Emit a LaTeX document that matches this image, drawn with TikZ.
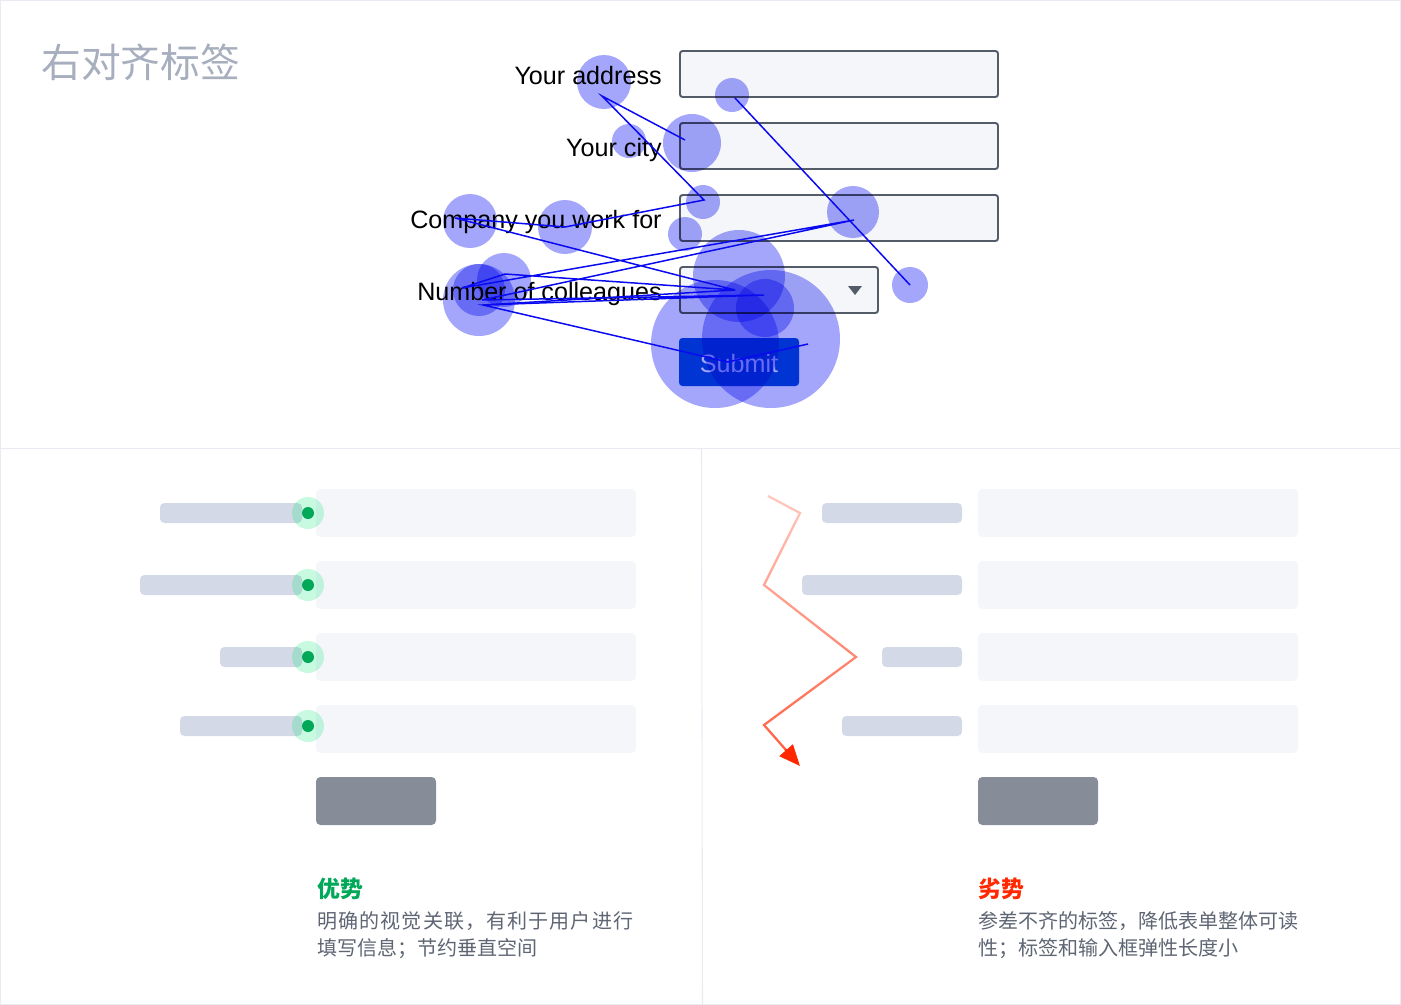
\documentclass[tikz,border=0pt]{standalone}
\usepackage{fontspec}
\setmainfont{Liberation Sans}
\newfontfamily\cjk{Noto Sans CJK SC}
\usetikzlibrary{arrows.meta,fadings,calc}

\definecolor{frame}{HTML}{E9EAF2}
\definecolor{fieldbg}{HTML}{F5F6FA}
\definecolor{fieldline}{HTML}{555C69}
\definecolor{barcol}{HTML}{D3D9E6}
\definecolor{btngray}{HTML}{868C98}
\definecolor{heatcol}{RGB}{163,166,250}
\definecolor{scanblue}{RGB}{10,10,240}
\definecolor{primary}{HTML}{0052D9}
\definecolor{titlegray}{HTML}{A7AEBE}
\definecolor{textgray}{HTML}{5E6573}
\definecolor{goodgreen}{HTML}{00A858}
\definecolor{halo}{HTML}{00E676}
\definecolor{badred}{RGB}{255,40,0}

\pgfdeclareverticalshading{zigshade}{100bp}{color(0bp)=(pgftransparent!0); color(100bp)=(pgftransparent!100)}
\pgfdeclarefading{zigfade}{\pgfuseshading{zigshade}}

\begin{document}
\begin{tikzpicture}[x=0.02cm, y=-0.02cm,
	field/.style={draw=fieldline, line width=1.1pt, fill=fieldbg, rounded corners=1.5pt},
	ghost/.style={fill=fieldbg, rounded corners=2.5pt},
	bar/.style={fill=barcol, rounded corners=2.5pt},
	label/.style={anchor=base east, inner sep=0pt, font=\fontsize{14.3}{16}\selectfont},
	heat/.style={fill=heatcol},
	scan/.style={scanblue, line width=0.85pt},
	note/.style={anchor=west, inner sep=0pt, text=textgray, font=\cjk\fontsize{11.4}{14}\selectfont}]
	\useasboundingbox (0,0) rectangle (1401,1005);

	% frame
	\draw[frame, line width=0.6pt] (0.5,0.5) rectangle (1400.5,1004.5);
	\draw[frame, line width=0.6pt] (0,448.5) -- (1401,448.5);
	\draw[frame, line width=0.6pt] (701.5,448.5) -- (702.5,1005);

	% top: the form
	\node[anchor=west, inner sep=0pt, text=titlegray, font=\cjk\fontsize{22.6}{26}\selectfont] (title) at (41,62) {右对齐标签};
	\draw[field] (680,51) rectangle (998,97);
	\draw[field] (680,123) rectangle (998,169);
	\draw[field] (680,195) rectangle (998,241);
	\draw[field] (680,267) rectangle (878,313);
	\fill[fieldline] (848,286) -- (862,286) -- (855,295) -- cycle;
	\node[label] (address) at (662,84) {Your address};
	\node[label] (city) at (662,156) {Your city};
	\node[label] (company) at (662,228) {Company you work for};
	\node[label] (colleagues) at (662,300) {Number of colleagues};
	\fill[primary, rounded corners=2pt] (679,338) rectangle (799,386);
	\node[text=white, inner sep=0pt, font=\fontsize{14.3}{16}\selectfont] (submit) at (739,364) {Submit};

	% heat map
	\begin{scope}[blend mode=multiply]
		\fill[heat] (604,82) circle[radius=27];
		\fill[heat] (732,95) circle[radius=17];
		\fill[heat] (692,143) circle[radius=29];
		\fill[heat] (629,141) circle[radius=17];
		\fill[heat] (703,202) circle[radius=17];
		\fill[heat] (470,221) circle[radius=27];
		\fill[heat] (565,227) circle[radius=27];
		\fill[heat] (685,234) circle[radius=17];
		\fill[heat] (853,212) circle[radius=26];
		\fill[heat] (910,285) circle[radius=18];
		\fill[heat] (739,276) circle[radius=46];
		\fill[heat] (504,280) circle[radius=27];
		\fill[heat] (479,290) circle[radius=26];
		\fill[heat] (479,300) circle[radius=36];
		\fill[heat] (765,308) circle[radius=29];
		\fill[heat] (715,344) circle[radius=64];
		\fill[heat] (771,339) circle[radius=69];
	\end{scope}

	% scan path
	\coordinate (s1) at (685,140);
	\coordinate (s2) at (602,96);
	\coordinate (s3) at (704,200);
	\coordinate (s4) at (565,227);
	\coordinate (s5) at (455,218);
	\coordinate (s6) at (735,290);
	\coordinate (s7) at (505,274);
	\coordinate (s8) at (462,288);
	\coordinate (s9) at (854,220);
	\coordinate (s10) at (482,300);
	\coordinate (s11) at (764,295);
	\coordinate (s12) at (483,305);
	\coordinate (s13) at (728,362);
	\coordinate (s14) at (808,344);
	\coordinate (t1) at (735,98);
	\coordinate (t2) at (910,285);
	\draw[scan] (s1) -- (s2) -- (s3) -- (s4) -- (s5) -- (s6) -- (s7) -- (s8) -- (s9) -- (s10) -- (s11) -- (s12) -- (s13) -- (s14);
	\draw[scan] (s6) -- (s12);
	\draw[scan] (t1) -- (t2);

	% bottom left: aligned labels
	\fill[ghost] (316,489) rectangle (636,537);
	\fill[ghost] (316,561) rectangle (636,609);
	\fill[ghost] (316,633) rectangle (636,681);
	\fill[ghost] (316,705) rectangle (636,753);
	\fill[bar] (160,503) rectangle (302,523);
	\fill[bar] (140,575) rectangle (302,595);
	\fill[bar] (220,647) rectangle (302,667);
	\fill[bar] (180,716) rectangle (302,736);
	\fill[halo, opacity=0.22] (308,513) circle[radius=16];
	\fill[halo, opacity=0.22] (308,585) circle[radius=16];
	\fill[halo, opacity=0.22] (308,657) circle[radius=16];
	\fill[halo, opacity=0.22] (308,726) circle[radius=16];
	\fill[goodgreen] (308,513) circle[radius=6];
	\fill[goodgreen] (308,585) circle[radius=6];
	\fill[goodgreen] (308,657) circle[radius=6];
	\fill[goodgreen] (308,726) circle[radius=6];
	\fill[btngray, rounded corners=2.5pt] (316,777) rectangle (436,825);
	\node[anchor=west, inner sep=0pt, text=goodgreen, font=\cjk\bfseries\fontsize{13}{16}\selectfont] (pro) at (317,889) {优势};
	\node[note] (pro1) at (317,921) {\addfontfeature{LetterSpace=5.5}明确的视觉关联，有利于用户进行};
	\node[note] (pro2) at (317,949) {填写信息；节约垂直空间};

	% bottom right: ragged labels
	\fill[ghost] (978,489) rectangle (1298,537);
	\fill[ghost] (978,561) rectangle (1298,609);
	\fill[ghost] (978,633) rectangle (1298,681);
	\fill[ghost] (978,705) rectangle (1298,753);
	\fill[bar] (822,503) rectangle (962,523);
	\fill[bar] (802,575) rectangle (962,595);
	\fill[bar] (882,647) rectangle (962,667);
	\fill[bar] (842,716) rectangle (962,736);
	\fill[btngray, rounded corners=2.5pt] (978,777) rectangle (1098,825);
	\coordinate (z0) at (768,496);
	\coordinate (z1) at (800,513);
	\coordinate (z2) at (764,585);
	\coordinate (z3) at (856,657);
	\coordinate (z4) at (764,725);
	\coordinate (z5) at (800,766);
	\draw[badred, line width=1.3pt, path fading=zigfade] (z0) -- (z1) -- (z2) -- (z3) -- (z4) -- ($(z4)!0.8!(z5)$);
	\draw[badred, line width=1.3pt, -{Triangle[length=12pt,width=10pt]}] ($(z4)!0.6!(z5)$) -- (z5);
	\node[anchor=west, inner sep=0pt, text=badred, font=\cjk\bfseries\fontsize{13}{16}\selectfont] (con) at (978,889) {劣势};
	\node[note] (con1) at (978,921) {参差不齐的标签，降低表单整体可读};
	\node[note] (con2) at (978,949) {性；标签和输入框弹性长度小};
\end{tikzpicture}
\end{document}
